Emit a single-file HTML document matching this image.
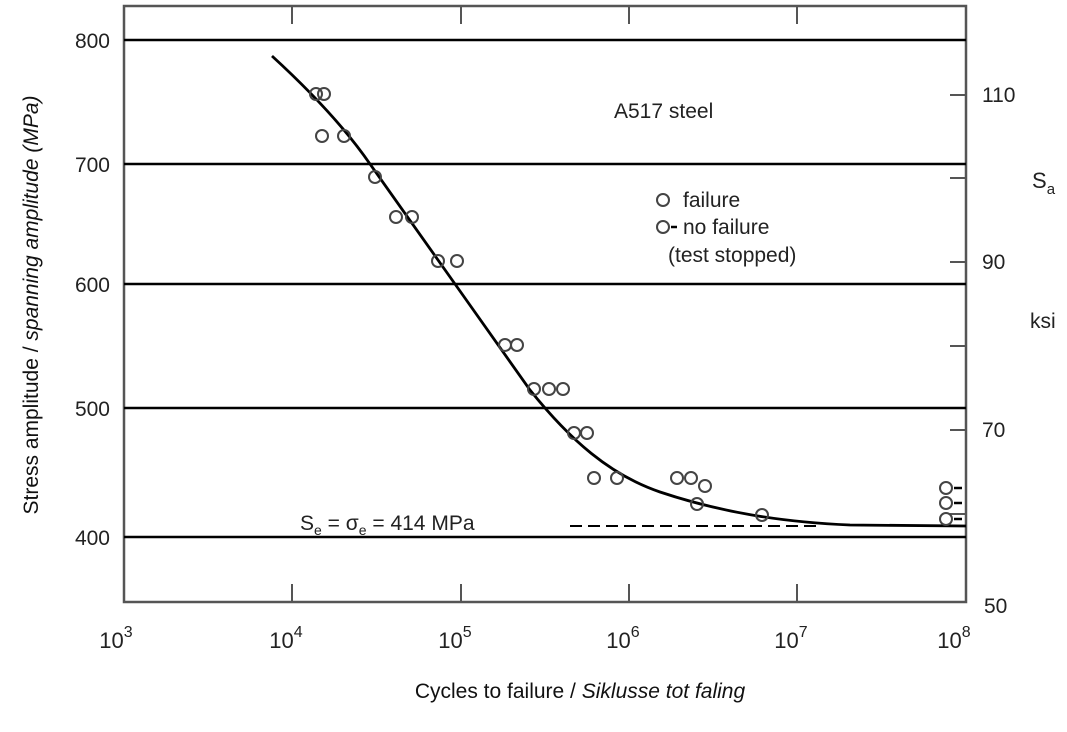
<!DOCTYPE html>
<html><head><style>body{margin:0;background:#fff}</style></head><body>
<svg width="1067" height="727" xmlns="http://www.w3.org/2000/svg" font-family="Liberation Sans, sans-serif">
<rect x="124" y="6" width="842" height="596" fill="none" stroke="#555" stroke-width="2.5"/>
<g stroke="#000" stroke-width="2.5">
<line x1="124" y1="40" x2="966" y2="40"/><line x1="124" y1="164" x2="966" y2="164"/>
<line x1="124" y1="284" x2="966" y2="284"/><line x1="124" y1="408" x2="966" y2="408"/>
<line x1="124" y1="537" x2="966" y2="537"/></g>
<g stroke="#555" stroke-width="2">
<line x1="292" y1="6" x2="292" y2="24"/><line x1="461" y1="6" x2="461" y2="24"/><line x1="629" y1="6" x2="629" y2="24"/><line x1="797" y1="6" x2="797" y2="24"/>
<line x1="292" y1="602" x2="292" y2="584"/><line x1="461" y1="602" x2="461" y2="584"/><line x1="629" y1="602" x2="629" y2="584"/><line x1="797" y1="602" x2="797" y2="584"/>
<line x1="950" y1="95" x2="966" y2="95"/><line x1="950" y1="178" x2="966" y2="178"/><line x1="950" y1="262" x2="966" y2="262"/><line x1="950" y1="346" x2="966" y2="346"/><line x1="950" y1="430" x2="966" y2="430"/><line x1="950" y1="514" x2="966" y2="514"/>
</g>
<path d="M272,56 C320,100 350,135 370,164 L455,284 L530,390 C570,440 610,475 660,492 C720,512 780,522 850,525 L966,526" fill="none" stroke="#000" stroke-width="2.8"/>
<line x1="570" y1="526" x2="820" y2="526" stroke="#000" stroke-width="2" stroke-dasharray="12,6"/>
<g fill="none" stroke="#444" stroke-width="2">
<circle cx="316" cy="94" r="6"/><circle cx="324" cy="94" r="6"/><circle cx="322" cy="136" r="6"/><circle cx="344" cy="136" r="6"/><circle cx="375" cy="177" r="6"/><circle cx="396" cy="217" r="6"/><circle cx="412" cy="217" r="6"/><circle cx="438" cy="261" r="6"/><circle cx="457" cy="261" r="6"/><circle cx="505" cy="345" r="6"/><circle cx="517" cy="345" r="6"/><circle cx="534" cy="389" r="6"/><circle cx="549" cy="389" r="6"/><circle cx="563" cy="389" r="6"/><circle cx="574" cy="433" r="6"/><circle cx="587" cy="433" r="6"/><circle cx="594" cy="478" r="6"/><circle cx="617" cy="478" r="6"/><circle cx="677" cy="478" r="6"/><circle cx="691" cy="478" r="6"/><circle cx="705" cy="486" r="6"/><circle cx="697" cy="504" r="6"/><circle cx="762" cy="515" r="6"/>
<circle cx="946" cy="488" r="6"/><circle cx="946" cy="503" r="6"/><circle cx="946" cy="519" r="6"/>
<circle cx="663" cy="200" r="6"/><circle cx="663" cy="227" r="6"/>
</g>
<g stroke="#000" stroke-width="2.5"><line x1="954" y1="488" x2="962" y2="488"/><line x1="954" y1="503" x2="962" y2="503"/><line x1="954" y1="519" x2="962" y2="519"/><line x1="671" y1="227" x2="677" y2="227"/></g>
<g fill="#222" font-size="21">
<text x="614" y="118">A517 steel</text>
<text x="683" y="207">failure</text>
<text x="683" y="234">no failure</text>
<text x="668" y="262">(test stopped)</text>
<text x="300" y="530">S<tspan font-size="14" dy="5">e</tspan><tspan dy="-5"> = σ</tspan><tspan font-size="14" dy="5">e</tspan><tspan dy="-5"> = 414 MPa</tspan></text>
<text x="1032" y="188" font-size="22">S<tspan font-size="15" dy="6">a</tspan></text>
<text x="1030" y="328">ksi</text>
<text x="982" y="102">110</text><text x="982" y="269">90</text><text x="982" y="437">70</text><text x="984" y="613">50</text>
<g text-anchor="end"><text x="110" y="48">800</text><text x="110" y="172">700</text><text x="110" y="292">600</text><text x="110" y="416">500</text><text x="110" y="545">400</text></g>
<g text-anchor="middle" font-size="22"><text x="116" y="648">10<tspan font-size="16" dy="-11">3</tspan></text><text x="286" y="648">10<tspan font-size="16" dy="-11">4</tspan></text><text x="455" y="648">10<tspan font-size="16" dy="-11">5</tspan></text><text x="623" y="648">10<tspan font-size="16" dy="-11">6</tspan></text><text x="791" y="648">10<tspan font-size="16" dy="-11">7</tspan></text><text x="954" y="648">10<tspan font-size="16" dy="-11">8</tspan></text></g>
</g>
<text x="580" y="698" font-size="21" text-anchor="middle" fill="#111">Cycles to failure / <tspan font-style="italic">Siklusse tot faling</tspan></text>
<text transform="translate(38,305) rotate(-90)" font-size="21" text-anchor="middle" fill="#111">Stress amplitude / <tspan font-style="italic">spanning amplitude (MPa)</tspan></text>
</svg>
</body></html>
